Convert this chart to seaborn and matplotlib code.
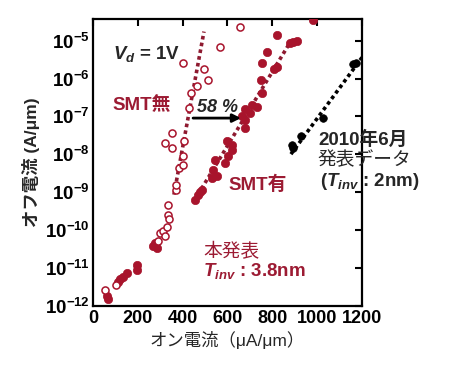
"""オン電流 vs オフ電流 (SMT有無の比較) を再現するスクリプト."""

import matplotlib

matplotlib.use("Agg")
import matplotlib.pyplot as plt
import numpy as np
import pandas as pd
import seaborn as sns
from matplotlib.ticker import FixedLocator, FuncFormatter

# --- データ ---------------------------------------------------------------
# SMT無 (白抜き丸)
smt_nashi_ion = [54, 101, 291, 299, 314, 321, 329, 336, 340, 333, 370, 370,
                 385, 403, 403, 406, 351, 321, 351, 430, 437, 462, 497, 514,
                 403, 567, 656]
smt_nashi_ioff = [2.6e-12, 3.5e-12, 5.0e-11, 8.3e-11, 9.1e-11, 6.8e-11,
                  1.2e-10, 2.5e-10, 1.9e-10, 4.6e-10, 1.15e-9, 1.55e-9,
                  4.3e-9, 5.2e-9, 8.7e-9, 2.2e-8, 3.6e-8, 1.95e-8, 1.45e-8,
                  1.66e-7, 4.1e-7, 6.2e-7, 1.8e-6, 9.1e-7, 2.5e-6, 6.9e-6,
                  2.3e-5]

# SMT有 (塗りつぶし丸)
smt_ari_ion = [61, 65, 113, 120, 135, 150, 195, 195, 277, 269, 284,
               470, 455, 485, 477, 529, 552, 537, 544, 589, 603, 618, 618,
               596, 678, 663, 678, 700, 708, 730, 680, 753, 750, 819, 806,
               753, 775, 819, 880, 894, 909, 980]
smt_ari_ioff = [1.8e-12, 1.45e-12, 4.1e-12, 4.9e-12, 5.6e-12, 7.2e-12,
                1.2e-11, 8.9e-12, 4.5e-11, 3.7e-11, 3.4e-11,
                8.5e-10, 6.3e-10, 1.15e-9, 1.0e-9, 2.3e-9, 2.6e-9, 3.9e-9,
                7.1e-9, 5.8e-9, 8.7e-9, 1.3e-8, 1.8e-8, 2.2e-8, 4.9e-8,
                1.0e-7, 8.1e-8, 1.2e-7, 2.0e-7, 1.8e-7, 1.6e-7, 4.1e-7,
                8.9e-7, 2.0e-6, 1.8e-6, 2.5e-6, 5.1e-6, 1.4e-5, 8.7e-6,
                9.1e-6, 9.8e-6, 3.5e-5]

# 2010年6月発表データ (黒丸)
data2010_ion = [886, 894, 927, 1025, 1158, 1172]
data2010_ioff = [1.8e-8, 1.45e-8, 2.95e-8, 8.9e-8, 2.4e-6, 2.6e-6]

# 近似線 (点線)
fit_nashi_ion = [361, 495]
fit_nashi_ioff = [8.5e-10, 1.74e-5]
fit_ari_ion = [468, 883]
fit_ari_ioff = [8.5e-10, 9.8e-6]
fit_2010_ion = [883, 1200]
fit_2010_ioff = [1.0e-8, 3.6e-6]

x_ticks = [0, 200, 400, 600, 800, 1000, 1200]
y_exponents = [-12, -11, -10, -9, -8, -7, -6, -5]

# --- スタイル ---------------------------------------------------------------
sns.set_style("white")
plt.rcParams["font.family"] = ["Liberation Sans", "Noto Sans CJK JP"]
plt.rcParams["mathtext.fontset"] = "custom"
plt.rcParams["mathtext.rm"] = "Liberation Sans:bold"
plt.rcParams["mathtext.bf"] = "Liberation Sans:bold"
plt.rcParams["mathtext.it"] = "Liberation Sans:italic:bold"

RED = "#A8142C"
RED_TXT = "#9C1B33"
RED_LINE = "#8E1A30"

fig = plt.figure(figsize=(4.52, 3.68), dpi=100)
ax = fig.add_axes([93 / 452, 1 - 305.5 / 368, 269 / 452, 287 / 368])

# 近似線
for xs, ys, col in [(fit_nashi_ion, fit_nashi_ioff, RED_LINE),
                    (fit_ari_ion, fit_ari_ioff, RED_LINE),
                    (fit_2010_ion, fit_2010_ioff, "black")]:
    sns.lineplot(x=xs, y=ys, ax=ax, color=col, lw=2.6,
                 linestyle=(0, (1.0, 0.9)), zorder=2)

df_nashi = pd.DataFrame({"ion": smt_nashi_ion, "ioff": smt_nashi_ioff})
df_ari = pd.DataFrame({"ion": smt_ari_ion, "ioff": smt_ari_ioff})
df_2010 = pd.DataFrame({"ion": data2010_ion, "ioff": data2010_ioff})

sns.scatterplot(data=df_ari, x="ion", y="ioff", ax=ax, color=RED, s=36,
                edgecolor=RED, linewidth=0.5, zorder=3)
sns.scatterplot(data=df_nashi, x="ion", y="ioff", ax=ax, facecolor="white",
                edgecolor=RED, s=26, linewidth=1.1, zorder=4)
sns.scatterplot(data=df_2010, x="ion", y="ioff", ax=ax, color="black", s=30,
                edgecolor="black", linewidth=0.5, zorder=3)

# --- 軸 ---------------------------------------------------------------------
ax.set_yscale("log")
ax.set_xlim(0, 1200)
ax.set_ylim(1e-12, 10 ** -4.414)
ax.xaxis.set_major_locator(FixedLocator(x_ticks))
ax.yaxis.set_major_locator(FixedLocator([10.0 ** e for e in y_exponents]))
ax.yaxis.set_minor_locator(FixedLocator([]))
ax.yaxis.set_major_formatter(
    FuncFormatter(lambda v, p: r"$\mathrm{10^{%d}}$" % round(np.log10(v))))

ax.tick_params(axis="both", which="major", direction="in", length=5,
               width=1.5, top=True, right=True, labelsize=13, pad=3,
               colors="black")
ax.tick_params(axis="y", labelsize=13.5, pad=2.5)
for lab in ax.get_xticklabels():
    lab.set_fontweight("bold")
for sp in ax.spines.values():
    sp.set_linewidth(1.6)
    sp.set_color("black")

ax.set_xlabel("オン電流（μA/μm）", fontsize=12.5, labelpad=3)
ax.set_ylabel("オフ電流 (A/μm)", fontsize=12.5, fontweight="bold", labelpad=3)

# --- 注記 -------------------------------------------------------------------
tr = ax.transAxes
ax.text(0.074, 0.859, r"$\mathit{V}_{\mathit{d}}$ = 1V", transform=tr,
        fontsize=13.5, fontweight="bold", va="baseline")
ax.text(0.074, 0.681, "SMT無", transform=tr, color=RED_TXT, fontsize=13.5,
        fontweight="bold", va="baseline")
ax.text(0.502, 0.402, "SMT有", transform=tr, color=RED_TXT, fontsize=13.5,
        fontweight="bold", va="baseline")
ax.text(0.385, 0.675, "58 %", transform=tr, fontsize=13, fontweight="bold",
        fontstyle="italic", va="baseline")
ax.annotate("", xy=(0.55, 0.653), xytext=(0.372, 0.653), xycoords=tr,
            arrowprops=dict(arrowstyle="-|>", color="black", lw=2,
                            mutation_scale=12, shrinkA=0, shrinkB=0))
ax.text(0.409, 0.169, "本発表", transform=tr, color=RED_TXT, fontsize=13.5,
        va="baseline")
ax.text(0.409, 0.103, r"$\mathit{T}_{\mathit{inv}}$ : 3.8nm", transform=tr,
        color=RED_TXT, fontsize=13.5, fontweight="bold", va="baseline")
ax.text(0.836, 0.559, "2010年6月", transform=tr, fontsize=13.5,
        fontweight="bold", va="baseline")
ax.text(0.836, 0.49, "発表データ", transform=tr, fontsize=13.5, va="baseline")
ax.text(0.844, 0.416, r"($\mathit{T}_{\mathit{inv}}$ : 2nm)", transform=tr,
        fontsize=13.5, fontweight="bold", va="baseline")

fig.savefig("out.png", dpi=100)
plt.close(fig)
